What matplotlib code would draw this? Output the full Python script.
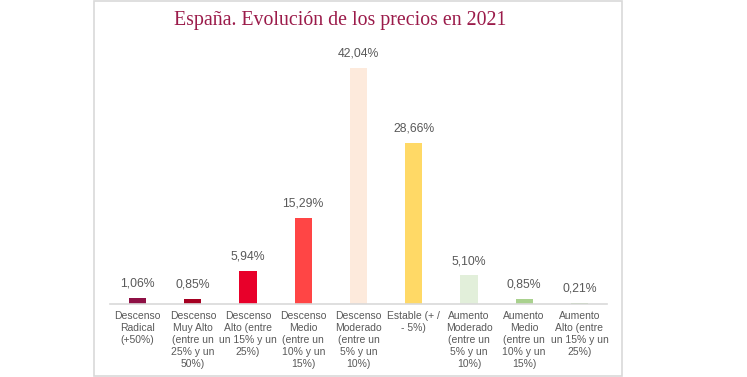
import matplotlib.pyplot as plt
from matplotlib.patches import Rectangle

# categories as shown (line breaks like the original)
categorias = [
    'Descenso\nRadical\n(+50%)',
    'Descenso\nMuy Alto\n(entre un\n25% y un\n50%)',
    'Descenso\nAlto (entre\nun 15% y un\n25%)',
    'Descenso\nMedio\n(entre un\n10% y un\n15%)',
    'Descenso\nModerado\n(entre un\n5% y un\n10%)',
    'Estable (+ /\n- 5%)',
    'Aumento\nModerado\n(entre un\n5% y un\n10%)',
    'Aumento\nMedio\n(entre un\n10% y un\n15%)',
    'Aumento\nAlto (entre\nun 15% y un\n25%)',
]
valores = [1.06, 0.85, 5.94, 15.29, 42.04, 28.66, 5.10, 0.85, 0.21]
colores = ['#8E1045', '#A50021', '#E8002A', '#FF4545', '#FDEADC',
           '#FFD966', '#E2EFDA', '#A9D18E', '#A9D18E']

fig = plt.figure(figsize=(7.47, 3.77), dpi=100)
ax = fig.add_axes([110 / 747, 1 - 304 / 377, 497 / 747, 252.5 / 377])

x = list(range(len(valores)))
ax.bar(x, valores, width=0.31, color=colores)

for xi, v in zip(x, valores):
    etiqueta = ('%.2f%%' % v).replace('.', ',')
    ax.annotate(etiqueta, (xi, v), xytext=(0, 6), textcoords='offset points',
                ha='center', va='bottom', fontsize=8.8, color='#595959',
                family='Liberation Sans')

ax.set_xlim(-0.5, len(valores) - 0.5)
ax.set_ylim(0, 45)
ax.set_xticks(x)
ax.set_xticklabels(categorias, fontsize=7.5, color='#595959', family='Liberation Sans',
                   linespacing=1.25, va='top')
ax.tick_params(axis='x', length=0, pad=5)
ax.set_yticks([])
for s in ['top', 'right', 'left']:
    ax.spines[s].set_visible(False)
ax.spines['bottom'].set_color('#d9d9d9')
ax.spines['bottom'].set_linewidth(1.2)

# marco gris del gráfico
fig.patches.append(Rectangle((94 / 747, 1 / 377), 528 / 747, 375 / 377,
                             transform=fig.transFigure, fill=False,
                             edgecolor='#d9d9d9', linewidth=1.2))

fig.text(340 / 747, 1 - 21 / 377, 'España. Evolución de los precios en 2021',
         ha='center', va='center', fontsize=14.3, color='#9B1B4A',
         family='Liberation Serif')

fig.savefig('out.png', dpi=100)
